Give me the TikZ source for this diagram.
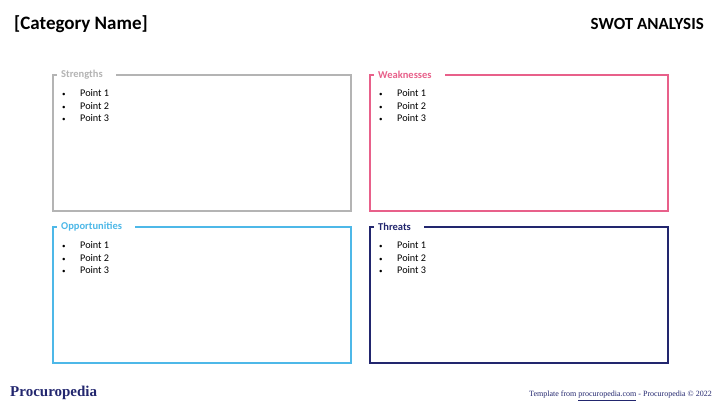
\documentclass[tikz,border=0pt]{standalone}
\usepackage{fontspec}
\setmainfont{Carlito}
\newfontfamily\serifb{Liberation Serif}
\usepackage{xcolor}
\definecolor{cgray}{HTML}{B4B4B4}
\definecolor{cpink}{HTML}{E8608A}
\definecolor{cblue}{HTML}{4DB8E8}
\definecolor{cnavy}{HTML}{22266E}
\newcommand{\bul}{\makebox[18pt][l]{\fontsize{7}{8}\selectfont\textbullet}}
\begin{document}
\begin{tikzpicture}[x=1pt,y=-1pt,
  swbox/.style={draw,line width=1.8pt},
  swtitle/.style={fill=white,inner sep=4pt,inner xsep=0pt,anchor=west,font=\fontsize{10.5}{12}\selectfont\bfseries},
  pts/.style={anchor=north west,inner sep=0pt,font=\fontsize{10.2}{12.8}\selectfont,align=left}]
\useasboundingbox (0,0) rectangle (720,405);
\node[anchor=west,inner sep=0pt,font=\fontsize{19}{22}\selectfont\bfseries] (cat) at (14,24) {[Category Name]};
\node[anchor=east,inner sep=0pt,font=\fontsize{17}{20}\selectfont\bfseries] (swot) at (704,24) {SWOT ANALYSIS};
\foreach \n/\x/\y/\c/\t in {s/53/75/cgray/Strengths,w/370/75/cpink/Weaknesses,o/53/227/cblue/Opportunities,t/370/227/cnavy/Threats}{
  \draw[swbox,\c] (\x,\y) rectangle ++(298,136);
  \node[swtitle,text=\c] (\n title) at (\x+4,\y) {\rule{4pt}{0pt}\t\rule{13pt}{0pt}};
  \node[pts] (\n pts) at (\x+9,\y+14) {\bul Point 1\\\bul Point 2\\\bul Point 3};
}
\node[anchor=west,inner sep=0pt,text=cnavy,font=\serifb\fontsize{15}{17}\selectfont\bfseries] (logo) at (10,393) {Procuropedia};
\node[anchor=east,inner sep=0pt,text=cnavy,font=\serifb\fontsize{8}{9}\selectfont] (foot) at (712,396) {Template from \underline{procuropedia.com} - Procuropedia \copyright{} 2022};
\end{tikzpicture}
\end{document}
